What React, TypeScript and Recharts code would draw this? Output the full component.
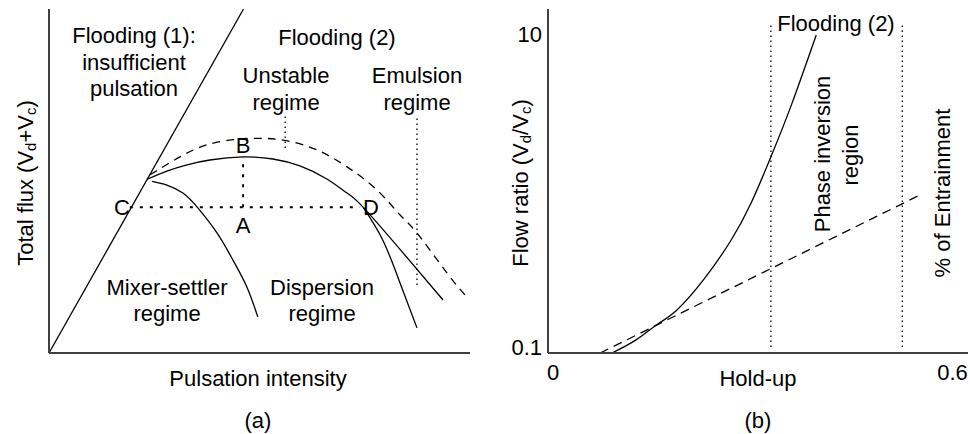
import React from "react";
import { LineChart, Line, XAxis, YAxis } from "recharts";

// ---- panel (a): pulsation intensity vs total flux (arbitrary units 0-100) ----
const limitLine = [
  { x: 0, y: 0 },
  { x: 46.2, y: 100 },
];
const upperCurve = [
  { x: 23.3, y: 50.5 },
  { x: 28.0, y: 52.9 },
  { x: 32.8, y: 54.7 },
  { x: 38.2, y: 56.1 },
  { x: 46.1, y: 57.0 },
  { x: 53.2, y: 56.4 },
  { x: 59.6, y: 54.4 },
  { x: 66.0, y: 50.6 },
  { x: 70.8, y: 46.5 },
  { x: 74.6, y: 42.4 },
  { x: 84.1, y: 29.1 },
  { x: 93.6, y: 15.4 },
];
const dashedCurve = [
  { x: 24.0, y: 51.8 },
  { x: 31.1, y: 57.0 },
  { x: 37.5, y: 60.5 },
  { x: 43.7, y: 62.0 },
  { x: 48.5, y: 62.4 },
  { x: 55.6, y: 61.9 },
  { x: 63.7, y: 59.0 },
  { x: 70.8, y: 54.1 },
  { x: 77.9, y: 47.4 },
  { x: 83.4, y: 40.1 },
  { x: 87.4, y: 34.9 },
  { x: 94.5, y: 23.3 },
  { x: 98.8, y: 16.9 },
];
const mixerCurve = [
  { x: 24.5, y: 49.9 },
  { x: 28.0, y: 48.8 },
  { x: 31.8, y: 46.5 },
  { x: 35.2, y: 42.4 },
  { x: 39.9, y: 34.9 },
  { x: 43.7, y: 27.0 },
  { x: 47.0, y: 19.2 },
  { x: 49.6, y: 10.5 },
];
const dispersionCurve = [
  { x: 74.6, y: 42.4 },
  { x: 79.3, y: 32.8 },
  { x: 83.4, y: 20.3 },
  { x: 87.4, y: 7.3 },
];
const lineCD = [
  { x: 19.2, y: 42.4 },
  { x: 73.9, y: 42.4 },
];
const lineAB = [
  { x: 46.1, y: 42.4 },
  { x: 46.1, y: 57.0 },
];
const unstableMark = [
  { x: 56.1, y: 59.6 },
  { x: 56.1, y: 69.2 },
];
const emulsionMark = [
  { x: 87.4, y: 19.8 },
  { x: 87.4, y: 69.2 },
];

// ---- panel (b): hold-up vs flow ratio (log) ----
const holdUpTicks = [0, 0.6];
const ratioTicks = [0.1, 10];
const floodingCurve = [
  { x: 0.0945, y: 0.1 },
  { x: 0.13, y: 0.121 },
  { x: 0.16, y: 0.15 },
  { x: 0.19, y: 0.186 },
  { x: 0.23, y: 0.29 },
  { x: 0.27, y: 0.51 },
  { x: 0.3, y: 0.88 },
  { x: 0.33, y: 1.75 },
  { x: 0.36, y: 3.7 },
  { x: 0.396, y: 10 },
];
const entrainmentLine = [
  { x: 0.077, y: 0.1 },
  { x: 0.552, y: 1.0 },
];
const inversionStart = [
  { x: 0.329, y: 0.109 },
  { x: 0.329, y: 12 },
];
const inversionEnd = [
  { x: 0.523, y: 0.109 },
  { x: 0.523, y: 12 },
];

const FONT = "'Liberation Sans', Arial, sans-serif";
const AXIS = { stroke: "#404040", strokeWidth: 2 };
const INK = "#000";

const curve = (data: { x: number; y: number }[], extra: any = {}, type: any = "natural") => (
  <Line
    data={data}
    dataKey="y"
    type={type}
    stroke={INK}
    strokeWidth={1.3}
    dot={false}
    activeDot={false}
    isAnimationActive={false}
    {...extra}
  />
);

const T = ({ x, y, children, rotate }: any) => (
  <text
    x={x}
    y={y}
    textAnchor="middle"
    dominantBaseline="central"
    transform={rotate ? `rotate(-90 ${x} ${y})` : undefined}
  >
    {children}
  </text>
);

// x tick: recharts passes the point on the axis line (tickSize 0, tickMargin 0)
const XTick = ({ x, y, payload }: any) => (
  <text
    x={x + (payload.value === 0 ? 5 : -2)}
    y={y + 19}
    textAnchor="middle"
    dominantBaseline="central"
    fontFamily={FONT}
    fontSize={22}
    fill={INK}
  >
    {payload.value}
  </text>
);

const YTick = ({ x, y, payload }: any) => (
  <text
    x={x}
    y={y + (payload.value === 0.1 ? -6 : 0)}
    textAnchor="end"
    dominantBaseline="central"
    fontFamily={FONT}
    fontSize={22}
    fill={INK}
  >
    {payload.value}
  </text>
);

export default function App() {
  return (
    <div style={{ position: "absolute", left: 0, top: 0, width: 970, height: 434, background: "#fff" }}>
      <div style={{ position: "absolute", left: 0, top: 0 }}>
        <LineChart width={485} height={434} margin={{ top: 9, right: 15, bottom: 51, left: 9 }}>
          <XAxis type="number" dataKey="x" domain={[0, 100]} height={30} tick={false} tickLine={false} axisLine={AXIS} />
          <YAxis type="number" domain={[0, 100]} width={40} tick={false} tickLine={false} axisLine={AXIS} />
          {curve(limitLine, {}, "linear")}
          {curve(dashedCurve, { strokeDasharray: "8 6" })}
          {curve(upperCurve)}
          {curve(mixerCurve)}
          {curve(dispersionCurve)}
          {curve(lineCD, { strokeDasharray: "3 7", strokeWidth: 2 }, "linear")}
          {curve(lineAB, { strokeDasharray: "3 7", strokeWidth: 2 }, "linear")}
          {curve(unstableMark, { strokeDasharray: "1.5 3.5" }, "linear")}
          {curve(emulsionMark, { strokeDasharray: "1.5 3.5" }, "linear")}
        </LineChart>
      </div>
      <div style={{ position: "absolute", left: 485, top: 0 }}>
        <LineChart width={485} height={434} margin={{ top: 9, right: 2, bottom: 51, left: 23 }}>
          <XAxis
            type="number"
            dataKey="x"
            domain={[0, 0.62]}
            ticks={holdUpTicks}
            height={30}
            tickSize={0}
            tickMargin={0}
            tickLine={false}
            tick={<XTick />}
            axisLine={AXIS}
          />
          <YAxis
            type="number"
            scale="log"
            domain={[0.1, 14.57]}
            allowDataOverflow
            ticks={ratioTicks}
            width={40}
            tickSize={0}
            tickMargin={6}
            tickLine={false}
            tick={<YTick />}
            axisLine={AXIS}
          />
          {curve(entrainmentLine, { strokeDasharray: "9 6" }, "linear")}
          {curve(floodingCurve)}
          {curve(inversionStart, { strokeDasharray: "1.5 3.5" }, "linear")}
          {curve(inversionEnd, { strokeDasharray: "1.5 3.5" }, "linear")}
        </LineChart>
      </div>
      <svg
        width={970}
        height={434}
        style={{ position: "absolute", left: 0, top: 0, pointerEvents: "none" }}
        fontFamily={FONT}
        fontSize={22}
        fill={INK}
      >
        <T x={134} y={35}>Flooding (1):</T>
        <T x={134} y={62}>insufficient</T>
        <T x={134} y={88}>pulsation</T>
        <T x={337} y={37}>Flooding (2)</T>
        <T x={286} y={75}>Unstable</T>
        <T x={286} y={102}>regime</T>
        <T x={417} y={75}>Emulsion</T>
        <T x={417} y={102}>regime</T>
        <T x={243} y={145}>B</T>
        <T x={122} y={207}>C</T>
        <T x={371} y={207}>D</T>
        <T x={243} y={225}>A</T>
        <T x={167} y={287}>Mixer-settler</T>
        <T x={167} y={313}>regime</T>
        <T x={322} y={287}>Dispersion</T>
        <T x={322} y={313}>regime</T>
        <T x={258} y={378}>Pulsation intensity</T>
        <T x={258} y={420}>(a)</T>
        <text x={25} y={183} textAnchor="middle" dominantBaseline="central" transform="rotate(-90 25 183)">
          Total flux (V<tspan dy={5} fontSize={15}>d</tspan>
          <tspan dy={-5}>+V</tspan>
          <tspan dy={5} fontSize={15}>c</tspan>
          <tspan dy={-5}>)</tspan>
        </text>

        <T x={836} y={23}>Flooding (2)</T>
        <T x={822} y={154} rotate>Phase inversion</T>
        <T x={850} y={155} rotate>region</T>
        <T x={942} y={193} rotate>% of Entrainment</T>
        <T x={758} y={378}>Hold-up</T>
        <T x={758} y={420}>(b)</T>
        <text x={520} y={183} textAnchor="middle" dominantBaseline="central" transform="rotate(-90 520 183)">
          Flow ratio (V<tspan dy={5} fontSize={15}>d</tspan>
          <tspan dy={-5}>/V</tspan>
          <tspan dy={5} fontSize={15}>c</tspan>
          <tspan dy={-5}>)</tspan>
        </text>
      </svg>
    </div>
  );
}
